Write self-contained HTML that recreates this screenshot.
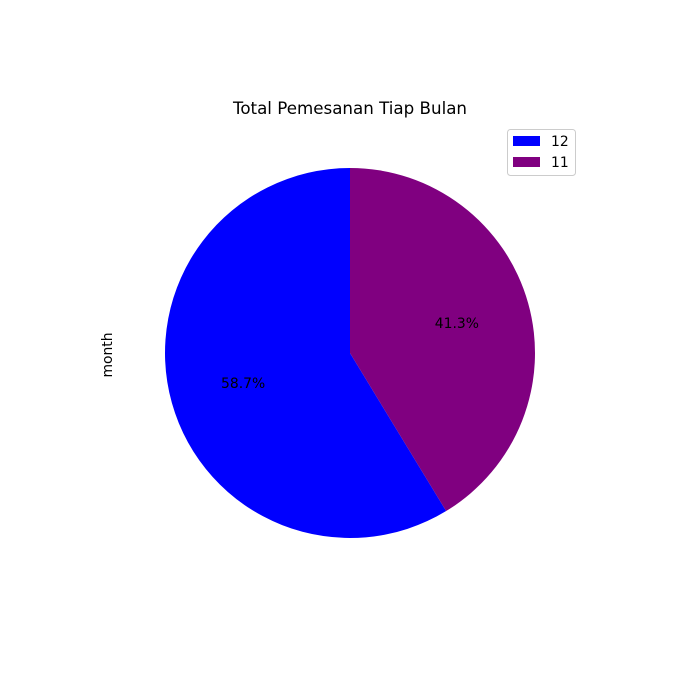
<!DOCTYPE html>
<html>
<head>
<meta charset="utf-8">
<style>
  html,body{margin:0;padding:0;background:#fff;}
  svg{display:block;font-family:"DejaVu Sans","Liberation Sans",sans-serif;}
</style>
</head>
<body>
<svg id="chart" width="681" height="684" viewBox="0 0 681 684">
  <text x="350" y="114" text-anchor="middle" font-size="16.7" fill="#000">Total Pemesanan Tiap Bulan</text>
  <text x="0" y="0" transform="translate(112,355) rotate(-90)" text-anchor="middle" font-size="13.9" fill="#000">month</text>
  <g id="slices"></g>
  <g id="labels"></g>
  <g>
    <rect x="507.5" y="129.5" width="68" height="46" rx="3" fill="#fff" stroke="#ccc" stroke-width="1"/>
    <g id="legend-items"></g>
  </g>
</svg>
<script>
const categories = ["12", "11"];
const values = [58.7, 41.3];
const colors = ["#0000ff", "#800080"];

const cx = 350, cy = 353, r = 185, startAngle = 90;
const ns = "http://www.w3.org/2000/svg";
const total = values.reduce((a,b)=>a+b,0);
const slices = document.getElementById("slices");
const labels = document.getElementById("labels");
const legendItems = document.getElementById("legend-items");

function pt(deg, rad){
  const a = deg*Math.PI/180;
  return [cx + rad*Math.cos(a), cy - rad*Math.sin(a)];
}

let ang = startAngle;
values.forEach((v,i)=>{
  const sweep = v/total*360;
  const a0 = ang, a1 = ang + sweep;
  const p0 = pt(a0, r), p1 = pt(a1, r);
  const large = sweep > 180 ? 1 : 0;
  const path = document.createElementNS(ns, "path");
  path.setAttribute("d", `M${cx},${cy} L${p0[0]},${p0[1]} A${r},${r} 0 ${large} 0 ${p1[0]},${p1[1]} Z`);
  path.setAttribute("fill", colors[i]);
  
  
  slices.appendChild(path);

  const mid = (a0+a1)/2;
  const lp = pt(mid, r*0.6);
  const t = document.createElementNS(ns, "text");
  t.setAttribute("x", lp[0]); t.setAttribute("y", lp[1]+5);
  t.setAttribute("text-anchor", "middle");
  t.setAttribute("font-size", "13.9");
  t.textContent = (v/total*100).toFixed(1) + "%";
  
  
  labels.appendChild(t);

  const g = document.createElementNS(ns, "g");
  
  
  const sw = document.createElementNS(ns, "rect");
  sw.setAttribute("x", 513); sw.setAttribute("y", 136 + i*21);
  sw.setAttribute("width", 27); sw.setAttribute("height", 10);
  sw.setAttribute("fill", colors[i]);
  const lt = document.createElementNS(ns, "text");
  lt.setAttribute("x", 551); lt.setAttribute("y", 146 + i*21);
  lt.setAttribute("font-size", "13.9");
  lt.textContent = categories[i];
  g.appendChild(sw); g.appendChild(lt);
  legendItems.appendChild(g);

  ang = a1;
});
</script>
</body>
</html>
